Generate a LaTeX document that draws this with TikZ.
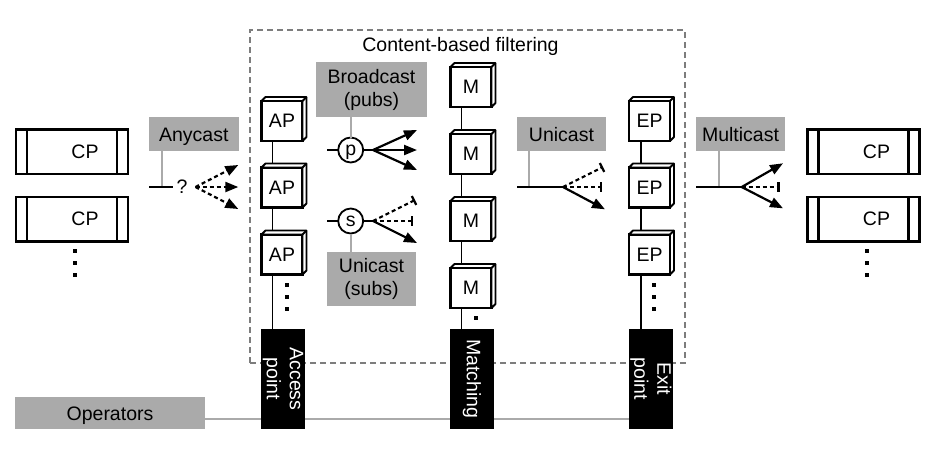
\documentclass[tikz,border=0pt]{standalone}
\usepackage{fontspec}
\setmainfont{Liberation Sans}
\usetikzlibrary{arrows.meta,calc,backgrounds}
\definecolor{gfill}{RGB}{170,170,170}
\definecolor{fgray}{RGB}{125,125,125}
\tikzset{
  cube/.style={draw, fill=white, line width=2.2pt, minimum width=41pt, minimum height=40pt, inner sep=0pt, outer sep=0pt},
  cpbox/.style={draw, line width=2.1pt, minimum width=112pt, minimum height=44.5pt, inner sep=0pt, outer sep=0pt},
  gbox/.style={fill=gfill, inner sep=0pt, outer sep=0pt, align=center},
  blk/.style={fill=black, text=white, rotate=-90, minimum width=100pt, minimum height=44pt, inner sep=0pt, outer sep=0pt, align=center},
  ring/.style={circle, draw, line width=1.8pt, minimum size=25pt, inner sep=0pt, outer sep=0pt, text height=10pt, text depth=0pt},
  conn/.style={line width=2.2pt},
  gline/.style={draw=gfill, line width=2.2pt},
  link/.style={line width=1.3pt},
  tip/.style={-{Triangle[length=13pt,width=10pt]}},
  bartip/.style={-{Bar[width=10pt]}},
  dsh/.style={dash pattern=on 4pt off 3pt},
  frame/.style={draw=fgray, line width=1.8pt, dash pattern=on 6pt off 4pt},
}
\newcommand\mycube[4]{%
  \node[cube] (#1) at (#2,#3) {#4};
  \filldraw[fill=white, line width=1.8pt, line join=round] (#1.north west) -- ++(4,-4) -- ($(#1.north east)+(4,-4)$) -- ($(#1.south east)+(4,-4)$) -- (#1.south east) -- (#1.north east) -- cycle;
  \draw[line width=1.8pt] (#1.north east) -- ++(4,-4);
}
\newcommand\sqdot[2]{\fill (#1-2,#2-2) rectangle ++(4,4);}
\begin{document}
\begin{tikzpicture}[x=1pt,y=-1pt,every node/.append style={font=\fontsize{19.5}{23}\selectfont}]
\useasboundingbox (0,0) rectangle (931,450);
% frame
\node[frame, minimum width=435pt, minimum height=333pt, inner sep=0pt, outer sep=0pt] (cbf) at (467.5,196.5) {};
\node[anchor=base, inner sep=0pt] (cbft) at (460.5,51) {Content-based filtering};
% CP boxes
\node[cpbox] (cpl1) at (72,151.7) {\hspace*{26pt}CP};
\node[cpbox] (cpl2) at (72,219.2) {\hspace*{26pt}CP};
\node[cpbox] (cpr1) at (863.5,151.7) {\hspace*{26pt}CP};
\node[cpbox] (cpr2) at (863.5,219.2) {\hspace*{26pt}CP};
\foreach \n in {cpl1,cpl2,cpr1,cpr2}{
  \draw[line width=2.1pt] ([xshift=11pt]\n.north west) -- ([xshift=11pt]\n.south west);
  \draw[line width=2.1pt] ([xshift=-11pt]\n.north east) -- ([xshift=-11pt]\n.south east);
}
\sqdot{75}{251} \sqdot{75}{263} \sqdot{75}{274.5}
\sqdot{866.7}{251} \sqdot{866.7}{263} \sqdot{866.7}{274.5}
% gray labels
\node[gbox, minimum width=89.5pt, minimum height=34pt, text height=14pt, text depth=0pt] (any) at (193.75,134) {Anycast};
\node[gbox, minimum width=89pt, minimum height=34pt, text height=14pt, text depth=0pt] (uni) at (561.5,134) {Unicast};
\node[gbox, minimum width=89pt, minimum height=34pt, text height=14pt, text depth=0pt] (mul) at (740.5,134) {Multicast};
\node[gbox, minimum width=190pt, minimum height=32pt, text height=14pt, text depth=0pt] (ops) at (110,413) {Operators};
\node[gbox, minimum width=111pt, minimum height=55pt] (bc) at (371.5,89.5) {Broadcast\\(pubs)};
\node[gbox, minimum width=89pt, minimum height=54pt] (us) at (371.5,279) {Unicast\\(subs)};
% circles
\node[ring] (pc) at (350.7,150) {p};
\node[ring] (sc) at (350.7,221) {s};
% broadcast connectors
\draw[gline] (pc.north |- bc.south) -- (pc.north);
\coordinate (pL) at (327,150); \coordinate (pF) at (373,150);
\coordinate (pE1) at (417,130); \coordinate (pE2) at (417,150); \coordinate (pE3) at (417,170);
\draw[conn] (pL) -- (pc.west);
\draw[conn] (pc.east) -- (pF);
\draw[conn,tip] (pF) -- (pE1);
\draw[conn,tip] (pF) -- (pE2);
\draw[conn,tip] (pF) -- (pE3);
% subscription connectors
\draw[gline] (sc.south) -- (sc.south |- us.north);
\coordinate (sL) at (327,221); \coordinate (sF) at (373,221);
\coordinate (sE1) at (417,243); \coordinate (sE2) at (415,200); \coordinate (sE3) at (413,221);
\draw[conn] (sL) -- (sc.west);
\draw[conn] (sc.east) -- (sF);
\draw[conn,tip] (sF) -- (sE1);
\draw[conn,dsh,bartip] (sF) -- (sE2);
\draw[conn,dsh,bartip] (sF) -- (sE3);
% anycast
\coordinate (aJ) at (161.7,187); \coordinate (aL) at (149,187); \coordinate (aR) at (172.5,187);
\draw[gline] (any.south -| aJ) -- (aJ);
\draw[conn] (aL) -- (aR);
\node[inner sep=0pt] (q) at (182,187) {?};
\coordinate (aS) at (195.5,187);
\coordinate (aE1) at (238.3,165); \coordinate (aE2) at (238.3,187); \coordinate (aE3) at (238.3,209);
\draw[conn,dsh,tip] (aS) -- (aE1);
\draw[conn,dsh,tip] (aS) -- (aE2);
\draw[conn,dsh,tip] (aS) -- (aE3);
% unicast
\coordinate (uJ) at (529.3,187); \coordinate (uL) at (517,187); \coordinate (uF) at (563,187);
\coordinate (uE1) at (605,209.3); \coordinate (uE2) at (603,167); \coordinate (uE3) at (602,187);
\draw[gline] (uni.south -| uJ) -- (uJ);
\draw[conn] (uL) -- (uF);
\draw[conn,tip] (uF) -- (uE1);
\draw[conn,dsh,bartip] (uF) -- (uE2);
\draw[conn,dsh,bartip] (uF) -- (uE3);
% multicast
\coordinate (mJ) at (719.3,187); \coordinate (mL) at (696,187); \coordinate (mF) at (741.7,187);
\coordinate (mE1) at (783,163.3); \coordinate (mE2) at (783,208.3); \coordinate (mE3) at (779.5,187);
\draw[gline] (mul.south -| mJ) -- (mJ);
\draw[conn] (mL) -- (mF);
\draw[conn,tip] (mF) -- (mE1);
\draw[conn,tip] (mF) -- (mE2);
\draw[conn,dsh,bartip] (mF) -- (mE3);
% cubes
\mycube{ap1}{282}{121}{AP}
\mycube{ap2}{282}{187.5}{AP}
\mycube{ap3}{282}{254.5}{AP}
\mycube{m1}{471}{87}{M}
\mycube{m2}{471}{154}{M}
\mycube{m3}{471}{221}{M}
\mycube{m4}{471}{288}{M}
\mycube{ep1}{649.5}{121}{EP}
\mycube{ep2}{649.5}{187.5}{EP}
\mycube{ep3}{649.5}{254.5}{EP}
\sqdot{287}{285} \sqdot{287}{297} \sqdot{287}{309}
\sqdot{654}{285} \sqdot{654}{297} \sqdot{654}{309}
\sqdot{476}{318}
% black boxes
\node[blk] (apb) at (283,379) {Access\\point};
\node[blk] (mb) at (472,379) {Matching};
\node[blk] (epb) at (651,379) {Exit\\point};
% background links
\begin{scope}[on background layer]
\draw[gline] ([yshift=10pt]ops.south east) -- ([yshift=10pt]ops.south east -| epb.center);
\draw[link] ([xshift=-9.5pt]ap1.center) -- ([xshift=-9.5pt]ap1.center |- apb.west);
\draw[link] ([xshift=-9.5pt]m1.center) -- ([xshift=-9.5pt]m1.center |- mb.west);
\draw[link] ([xshift=-8.5pt]ep1.center) -- ([xshift=-8.5pt]ep1.center |- epb.west);
\end{scope}
\end{tikzpicture}
\end{document}
